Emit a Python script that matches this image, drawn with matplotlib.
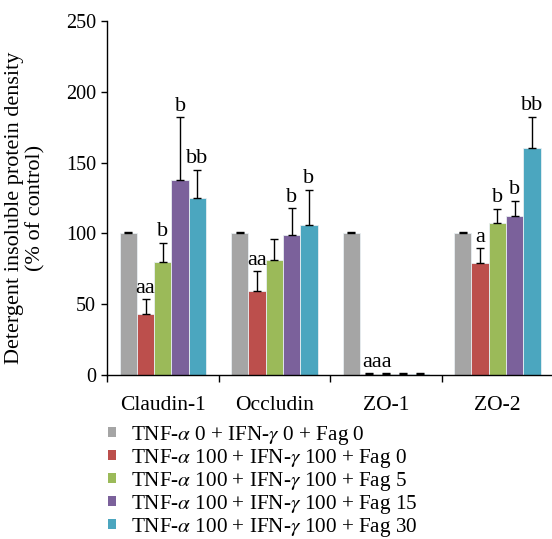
import numpy as np
import matplotlib.pyplot as plt
from matplotlib.patches import Patch

plt.rcParams['font.family'] = ['Liberation Serif', 'DejaVu Serif']
plt.rcParams['mathtext.fontset'] = 'stix'

categories = ['Claudin-1', 'Occludin', 'ZO-1', 'ZO-2']
series_labels = [
    r'TNF-$\alpha$ 0 + IFN-$\gamma$ 0 + Fag 0',
    r'TNF-$\alpha$ 100 + IFN-$\gamma$ 100 + Fag 0',
    r'TNF-$\alpha$ 100 + IFN-$\gamma$ 100 + Fag 5',
    r'TNF-$\alpha$ 100 + IFN-$\gamma$ 100 + Fag 15',
    r'TNF-$\alpha$ 100 + IFN-$\gamma$ 100 + Fag 30',
]
colors = ['#A5A5A5', '#BC4F4C', '#9BBA59', '#7B619B', '#4BA6BF']

# rows = series, cols = categories
means = [
    [100, 100, 100, 100],
    [43.5, 59.5, 0.8, 79],
    [80, 81.5, 0.8, 107.5],
    [138, 99, 0.8, 112.5],
    [125, 106, 0.8, 160.5],
]
errors = [
    [1.0, 1.0, 1.0, 1.0],
    [10, 14, 0.4, 10.5],
    [13.5, 14.5, 0.4, 10],
    [44, 19, 0.4, 10.5],
    [20, 25, 0.4, 22],
]
annotations = [
    ['', '', '', ''],
    ['aa', 'aa', 'aaa', 'a'],
    ['b', '', '', 'b'],
    ['b', 'b', '', 'b'],
    ['bb', 'b', '', 'bb'],
]

fig = plt.figure(figsize=(5.52, 5.39), dpi=100)
ax = fig.add_axes([0.194, 0.304, 0.812, 0.657])

n_series = len(means)
bar_w = 0.155
x = np.arange(len(categories))
for i in range(n_series):
    pos = x + (i - (n_series - 1) / 2) * bar_w
    ax.bar(pos, means[i], width=bar_w, color=colors[i], edgecolor='#E8EEF2',
           linewidth=0.6, label=series_labels[i], zorder=2)
    ax.errorbar(pos, means[i], yerr=[np.zeros(len(categories)), errors[i]],
                fmt='none', ecolor='black', elinewidth=1, capsize=3,
                capthick=1, zorder=3)
    for j in range(len(categories)):
        txt = annotations[i][j]
        if not txt:
            continue
        top = means[i][j] + errors[i][j]
        xt = pos[j]
        if txt == 'aaa':
            xt = pos[j] + 0.5 * bar_w
        ax.text(xt, top + 1.0, txt, ha='center', va='bottom', fontsize=16)

ax.set_xlim(-0.5, 3.52)
ax.set_ylim(0, 250)
ax.set_yticks([0, 50, 100, 150, 200, 250])
ax.set_xticks(x)
ax.set_xticklabels(categories, fontsize=15.5)
ax.set_xticks(np.arange(-0.5, 3.5, 1.0), minor=True)
ax.tick_params(axis='x', which='major', length=0, pad=15)
ax.tick_params(axis='x', which='minor', length=5, direction='out', width=1)
ax.tick_params(axis='y', length=4, direction='out', width=1, labelsize=14.5, pad=4)
for s in ['top', 'right']:
    ax.spines[s].set_visible(False)
ax.spines['left'].set_linewidth(1)
ax.spines['bottom'].set_linewidth(1)
ax.set_ylabel('Detergent insoluble protein density\n(% of control)', fontsize=16,
              linespacing=1.1)
ax.yaxis.set_label_coords(-0.138, 0.472)

handles = [Patch(facecolor=c, edgecolor='none') for c in colors]
fig.legend(handles, series_labels, loc='upper left', bbox_to_anchor=(0.195, 0.214),
           frameon=False, fontsize=15.2, handlelength=0.4, handleheight=0.4,
           handletextpad=0.72, labelspacing=0.0, borderaxespad=0, borderpad=0)

fig.savefig('out.png', dpi=100)
